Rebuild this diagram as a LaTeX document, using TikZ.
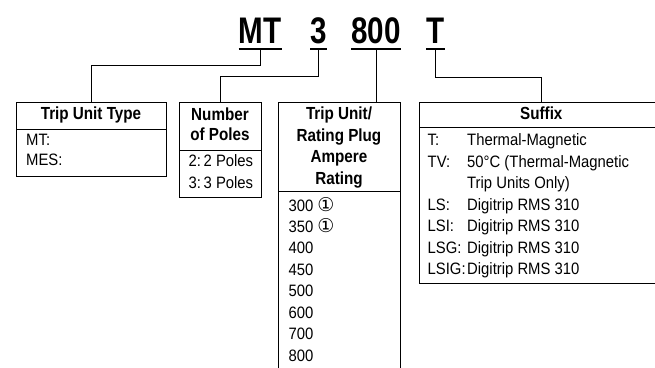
\documentclass[tikz,border=0pt]{standalone}
\usepackage{fontspec}
\setmainfont{Liberation Sans}[FakeStretch=0.9]
\newfontfamily\hdfont{Liberation Sans}[FakeStretch=0.87]
\newfontfamily\bigfont{Liberation Sans}[FakeStretch=0.8]
\newfontfamily\circfont{DejaVu Sans}
\begin{document}
\begin{tikzpicture}[x=1pt,y=-1pt,
  box/.style={draw, line width=0.9pt, rectangle, anchor=north west, inner sep=0pt},
  conn/.style={line width=0.9pt},
  uline/.style={line width=2.7pt},
  big/.style={font=\bigfont\bfseries\fontsize{37}{37}\selectfont, inner sep=0pt, anchor=base},
  hd/.style={font=\hdfont\bfseries\fontsize{17.5}{17.5}\selectfont, inner sep=0pt, anchor=base},
  bd/.style={font=\fontsize{16.5}{16.5}\selectfont, inner sep=0pt, anchor=base west}]
\useasboundingbox (0,0) rectangle (655,367);
\clip (0,0) rectangle (655,367);

% code letters
\node[big] (mt) at (260.3,43.3) {MT};
\node[big] (p3) at (318.5,43.3) {3};
\node[big] (a800) at (376,43.3) {800};
\node[big] (sT) at (435.3,43.3) {T};
\foreach \n in {mt,p3,a800,sT}{
  \draw[uline] ([yshift=-5.7pt]\n.base west) -- ([yshift=-5.7pt]\n.base east);
  \coordinate (\n u) at ([yshift=-5.7pt]\n.base);
}

% boxes
\node[box, minimum width=150pt, minimum height=74.3pt] (tut) at (16,101.7) {};
\node[box, minimum width=82pt, minimum height=95.6pt] (pol) at (179,101.7) {};
\node[box, minimum width=121.7pt, minimum height=300pt] (amp) at (278.3,101.7) {};
\node[box, minimum width=244pt, minimum height=181pt] (suf) at (419.3,101.7) {};
\draw[conn] (tut.west |- 0,129) -- (tut.east |- 0,129);
\draw[conn] (pol.west |- 0,150) -- (pol.east |- 0,150);
\draw[conn] (amp.west |- 0,191.7) -- (amp.east |- 0,191.7);
\draw[conn] (suf.west |- 0,127.5) -- (suf.east |- 0,127.5);

% connectors
\draw[conn] (mtu) -- (mtu |- 0,65) -| (tut.north);
\draw[conn] (p3u) -- (p3u |- 0,76.7) -| (pol.north);
\draw[conn] (a800u) -- (a800u |- amp.north);
\draw[conn] (sTu) -- (sTu |- 0,77) -| (suf.north);

% Trip Unit Type
\node[hd] (tuth) at (91,119.3) {Trip Unit Type};
\node[bd] (tut1) at (26,145.7) {MT:};
\node[bd] (tut2) at (26,165.7) {MES:};

% Number of Poles
\node[hd] (polh1) at (220,120) {Number};
\node[hd] (polh2) at (220,140.7) {of Poles};
\node[bd] (pol1) at (188.3,166.7) {2:\,2 Poles};
\node[bd] (pol2) at (188.3,188.7) {3:\,3 Poles};

% Ampere rating
\node[hd] (amph1) at (339,119.3) {Trip Unit/};
\node[hd] (amph2) at (339,141.7) {Rating Plug};
\node[hd] (amph3) at (339,162.7) {Ampere};
\node[hd] (amph4) at (339,184) {Rating};
\foreach \v [count=\i from 0] in {{300 {\circfont\fontsize{19}{19}\selectfont ①}},{350 {\circfont\fontsize{19}{19}\selectfont ①}},400,450,500,600,700,800}{
  \node[bd] (amp\i) at (288.3,211+21.43*\i) {\v};
}

% Suffix
\node[hd] (sufh) at (541.3,119.3) {Suffix};
\foreach \l/\t [count=\i from 0] in {T:/Thermal-Magnetic, TV:/50°C (Thermal-Magnetic, /Trip Units Only), LS:/Digitrip RMS 310, LSI:/Digitrip RMS 310, LSG:/Digitrip RMS 310}{
  \node[bd] (sufl\i) at (427.5,145.5+21.5*\i) {\l};
  \node[bd] (suft\i) at (467,145.5+21.5*\i) {\t};
}
\node[bd] (sufl6) at (427.5,274.5) {LSIG:};
\node[bd] (suft6) at (467,274.5) {Digitrip RMS 310};
\end{tikzpicture}
\end{document}
